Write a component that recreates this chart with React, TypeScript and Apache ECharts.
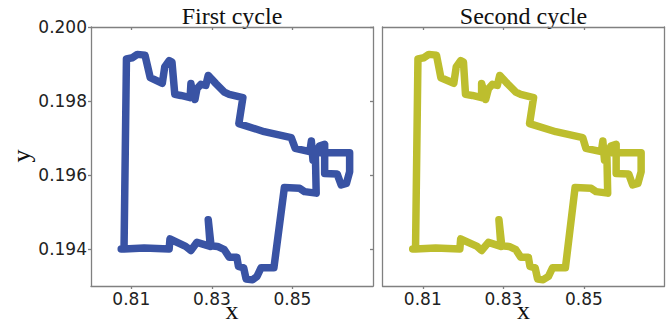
import React, { useEffect, useRef } from "react";
import * as echarts from "echarts";

const titles = ["First cycle", "Second cycle"];
const xTicks = [0.81, 0.83, 0.85];
const yTicks = [0.194, 0.196, 0.198, 0.2];

const firstX = [0.8075, 0.8082, 0.8088, 0.8103, 0.8115, 0.8134, 0.8147, 0.8177, 0.8183, 0.8194, 0.8201, 0.8208, 0.8223, 0.8246, 0.8248, 0.8252, 0.8258, 0.8263, 0.8273, 0.8285, 0.8291, 0.8299, 0.831, 0.8331, 0.8343, 0.8377, 0.8367, 0.843, 0.8497, 0.8507, 0.8543, 0.8547, 0.8551, 0.8567, 0.858, 0.858, 0.8611, 0.8621, 0.8634, 0.8642, 0.8642, 0.8563, 0.8557, 0.8559, 0.853, 0.8518, 0.848, 0.8454, 0.8422, 0.8412, 0.8401, 0.8385, 0.8379, 0.8366, 0.8362, 0.8343, 0.8331, 0.8314, 0.8298, 0.8291, 0.8296, 0.8263, 0.8248, 0.8235, 0.8196, 0.8194, 0.8132, 0.8082];
const firstY = [0.194, 0.194, 0.19914, 0.19917, 0.19926, 0.19924, 0.19863, 0.19848, 0.19892, 0.19909, 0.19905, 0.19818, 0.19815, 0.19809, 0.19847, 0.19824, 0.19804, 0.19833, 0.19845, 0.19842, 0.19869, 0.1986, 0.19847, 0.19824, 0.19818, 0.19809, 0.19739, 0.19717, 0.19701, 0.19672, 0.19663, 0.19692, 0.1964, 0.19678, 0.19683, 0.19604, 0.19603, 0.19573, 0.19577, 0.19609, 0.1966, 0.1966, 0.19654, 0.19551, 0.19555, 0.19564, 0.19566, 0.19349, 0.19349, 0.19326, 0.19317, 0.19319, 0.19349, 0.19353, 0.19378, 0.19378, 0.19398, 0.19407, 0.19409, 0.19479, 0.19407, 0.19418, 0.19396, 0.19407, 0.19427, 0.194, 0.19403, 0.194];

const secondX = [0.8075, 0.8082, 0.8088, 0.8103, 0.8115, 0.8134, 0.8145, 0.8177, 0.8183, 0.8194, 0.8201, 0.8206, 0.8223, 0.8246, 0.8246, 0.8252, 0.8256, 0.8263, 0.8273, 0.8285, 0.8291, 0.8299, 0.831, 0.8331, 0.8343, 0.8375, 0.8365, 0.843, 0.8497, 0.8505, 0.8543, 0.8547, 0.8551, 0.8567, 0.858, 0.858, 0.8611, 0.8621, 0.8634, 0.8642, 0.8642, 0.8563, 0.8557, 0.8559, 0.853, 0.8518, 0.8478, 0.8454, 0.8422, 0.8412, 0.8399, 0.8385, 0.8379, 0.8366, 0.8362, 0.8343, 0.8331, 0.8314, 0.8296, 0.8289, 0.8294, 0.8263, 0.8246, 0.8235, 0.8194, 0.8192, 0.8132, 0.8082];
const secondY = [0.194, 0.194, 0.19914, 0.19917, 0.19926, 0.19924, 0.19863, 0.19848, 0.19892, 0.19909, 0.19905, 0.19818, 0.19815, 0.19809, 0.19847, 0.19824, 0.19804, 0.19833, 0.19845, 0.19842, 0.19869, 0.1986, 0.19847, 0.19824, 0.19818, 0.19809, 0.19739, 0.19717, 0.19701, 0.19672, 0.19663, 0.19692, 0.1964, 0.19678, 0.19683, 0.19604, 0.19603, 0.19573, 0.19577, 0.19609, 0.1966, 0.1966, 0.19654, 0.19551, 0.19555, 0.19564, 0.19566, 0.19349, 0.19349, 0.19326, 0.19317, 0.19319, 0.19349, 0.19353, 0.19378, 0.19378, 0.19398, 0.19407, 0.19409, 0.19479, 0.19407, 0.19418, 0.19396, 0.19407, 0.19427, 0.194, 0.19403, 0.194];

const colors = ["#3953a4", "#bdbe2e"];

const AXIS_COLOR = "#808080";
const LABEL_COLOR = "#222";

export default function App() {
  const ref = useRef<HTMLDivElement>(null);
  useEffect(() => {
    if (!ref.current) return;
    const chart = echarts.init(ref.current, null, { renderer: "svg" });
    const grids = [
      { left: 91, top: 27, width: 282, height: 259 },
      { left: 382.5, top: 27, width: 282, height: 259 },
    ];
    const xAxes: any[] = [];
    const yAxes: any[] = [];
    grids.forEach((g, i) => {
      const lineStyle = { color: AXIS_COLOR, width: 1.3 };
      xAxes.push({
        type: "value", gridIndex: i, position: "bottom", min: 0.8, max: 0.87,
        axisLine: { show: true, onZero: false, lineStyle },
        axisTick: { show: true, inside: false, length: 3, customValues: xTicks, lineStyle },
        axisLabel: { show: true, customValues: xTicks, formatter: (v: number) => v.toFixed(2), fontFamily: "DejaVu Sans", fontSize: 17, color: LABEL_COLOR, margin: 4 },
        splitLine: { show: false },
      });
      xAxes.push({
        type: "value", gridIndex: i, position: "top", min: 0.8, max: 0.87,
        axisLine: { show: true, onZero: false, lineStyle },
        axisTick: { show: true, inside: true, length: 3, customValues: xTicks, lineStyle },
        axisLabel: { show: false },
        splitLine: { show: false },
      });
      yAxes.push({
        type: "value", gridIndex: i, position: "left", min: 0.193, max: 0.2,
        axisLine: { show: true, onZero: false, lineStyle },
        axisTick: { show: i === 0, inside: false, length: 3, customValues: yTicks, lineStyle },
        axisLabel: { show: i === 0, customValues: yTicks, formatter: (v: number) => v.toFixed(3), fontFamily: "DejaVu Sans", fontSize: 17, color: LABEL_COLOR, margin: 4 },
        splitLine: { show: false },
      });
      yAxes.push({
        type: "value", gridIndex: i, position: "right", min: 0.193, max: 0.2,
        axisLine: { show: true, onZero: false, lineStyle },
        axisTick: { show: i === 0, inside: true, length: 3, customValues: yTicks, lineStyle },
        axisLabel: { show: false },
        splitLine: { show: false },
      });
    });
    const cycles = [
      { xs: firstX, ys: firstY },
      { xs: secondX, ys: secondY },
    ];
    const series = cycles.map((c, i) => ({
      type: "line",
      xAxisIndex: i * 2,
      yAxisIndex: i * 2,
      data: c.xs.map((x, k) => [x, c.ys[k]]),
      showSymbol: false,
      symbol: "none",
      lineStyle: { width: 7.5, color: colors[i], cap: "round", join: "round" },
      itemStyle: { color: colors[i] },
      clip: true,
      z: 1,
    }));
    const centers = grids.map((g) => g.left + g.width / 2);
    const graphic: any[] = [];
    titles.forEach((t, i) => {
      graphic.push({ type: "text", x: centers[i], y: 16, style: { text: t, font: '24px "Liberation Serif"', fill: "#111", textAlign: "center", textVerticalAlign: "middle" } });
      graphic.push({ type: "text", x: centers[i], y: 310, style: { text: "x", font: '26px "Liberation Serif"', fill: "#111", textAlign: "center", textVerticalAlign: "middle" } });
    });
    graphic.push({ type: "text", x: 21, y: 156, rotation: Math.PI / 2, style: { text: "y", font: '26px "Liberation Serif"', fill: "#111", textAlign: "center", textVerticalAlign: "middle" } });

    chart.setOption({
      animation: false,
      backgroundColor: "#fff",
      grid: grids,
      xAxis: xAxes,
      yAxis: yAxes,
      series,
      graphic,
    });
    return () => chart.dispose();
  }, []);
  return <div ref={ref} style={{ position: "fixed", left: 0, top: 0, width: 670, height: 324 }} />;
}
